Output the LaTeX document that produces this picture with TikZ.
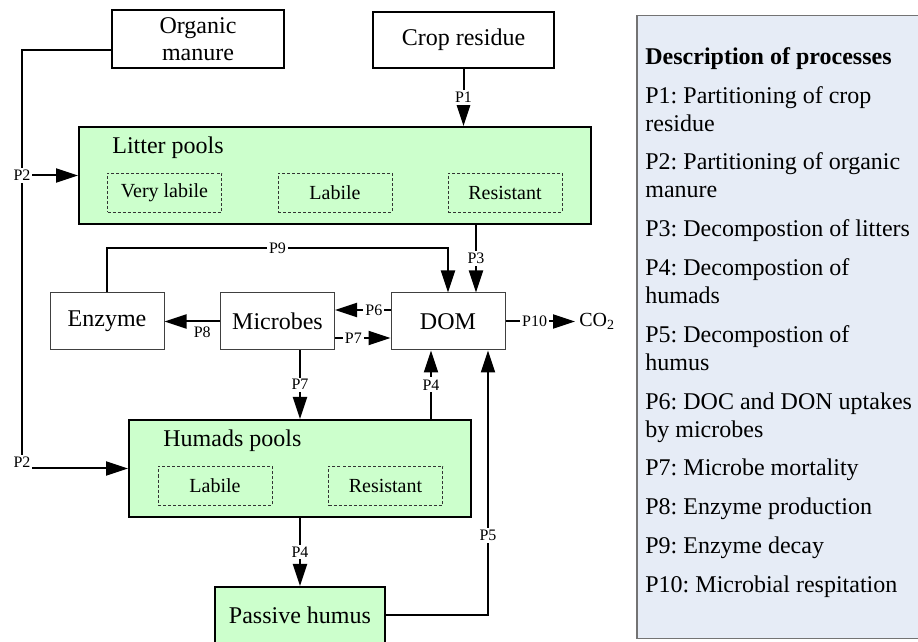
\documentclass[tikz,border=0pt]{standalone}
\usepackage{fontspec}
\setmainfont{Liberation Serif}
\usetikzlibrary{calc,arrows.meta}
\definecolor{poolgreen}{HTML}{CCFFCC}
\definecolor{descblue}{HTML}{E6ECF6}

\begin{document}
\frenchspacing
\begin{tikzpicture}[x=0.5pt, y=-0.5pt,
	box/.style={align=center, inner sep=0pt, font=\fontsize{12}{13.5}\selectfont},
	srcbox/.style={box, draw, line width=1pt, fill=white},
	poolbox/.style={box, draw, line width=1pt, fill=poolgreen},
	compbox/.style={box, draw=black!75, line width=0.5pt, fill=white, minimum width=57pt, minimum height=28.5pt},
	fracbox/.style={box, draw=black!80, line width=0.4pt, dash pattern=on 1.5pt off 1pt, minimum width=57pt, minimum height=19.5pt, font=\fontsize{10}{12}\selectfont},
	line/.style={line width=1pt},
	flow/.style={line, -{Triangle[length=11pt, width=7pt]}},
	plabel/.style={fill=white, inner sep=1pt, font=\fontsize{8}{9}\selectfont}]
	\clip (0,0) rectangle (918,642);
	\node[srcbox, minimum width=86pt, minimum height=29pt] (manure) at (198,39) {Organic\\manure};
	\node[srcbox, minimum width=90.5pt, minimum height=28pt] (crop) at (463.5,40) {Crop residue};
	\node[poolbox, minimum width=256pt, minimum height=48.5pt] (litter) at (335,175.5) {};
	\node[box, anchor=west] (littertitle) at (112,148) {Litter pools};
	\node[fracbox] (verylabile) at (164.5,192.5) {Very labile};
	\node[fracbox] (litterlabile) at (335,192.5) {Labile};
	\node[fracbox] (litterresist) at (505,192.5) {Resistant};
	\node[compbox] (enzyme) at (107,321.5) {Enzyme};
	\node[compbox] (microbes) at (277.5,321.5) {Microbes};
	\node[compbox] (dom) at (448,321.5) {DOM};
	\node[anchor=west, inner sep=2pt, font=\fontsize{10}{12}\selectfont] (co2) at (575,321.5) {CO\textsubscript{2}};
	\node[poolbox, minimum width=171pt, minimum height=48.5pt] (humads) at (300,468.5) {};
	\node[box, anchor=west] (humadstitle) at (163,441) {Humads pools};
	\node[fracbox] (humadslabile) at (215,486) {Labile};
	\node[fracbox] (humadsresist) at (385.5,486) {Resistant};
	\node[poolbox, minimum width=85pt, minimum height=28pt] (passive) at (300,615) {Passive humus};

	\coordinate (trunk) at (22,0);
	\coordinate (p9y) at (0,248);
	\coordinate (p3) at ([xshift=14pt]dom.north);
	\coordinate (p6) at ([yshift=5.75pt]dom.west);
	\coordinate (p7) at ([yshift=-8.25pt]microbes.east);
	\coordinate (p4) at ([xshift=-8.5pt]dom.south);
	\coordinate (p5) at ([xshift=20pt]dom.south);

	\draw[line] ($(manure.west)+(0,11)$) -| (trunk |- humads.west);
	\draw[flow] (trunk |- litter.west) node[plabel] {P2} -- (litter.west);
	\draw[flow] (trunk |- humads.west) node[plabel, yshift=3pt] {P2} -- (humads.west);
	\draw[flow] (crop.south) -- node[plabel] {P1} (crop.south |- litter.north);
	\draw[flow] (p3 |- litter.south) -- node[plabel] {P3} (p3);
	\draw[flow] (enzyme.north) -- (enzyme.north |- p9y) -- node[plabel] {P9} (dom.north |- p9y) -- (dom.north);
	\draw[flow] (p6) -- node[plabel, pos=0.3] {P6} (p6 -| microbes.east);
	\draw[flow] (p7) -- node[plabel, pos=0.33] {P7} (p7 -| dom.west);
	\draw[flow] (microbes.west) -- node[below, pos=0.32, inner sep=2pt, font=\fontsize{8}{9}\selectfont] {P8} (enzyme.east);
	\draw[flow] (microbes.south -| humads.north) -- node[plabel] {P7} (humads.north);
	\draw[flow] (p4 |- humads.north) -- node[plabel] {P4} (p4);
	\draw[flow] (humads.south) -- node[plabel] {P4} (passive.north);
	\draw[flow] (passive.east) -| node[plabel, pos=0.65] {P5} (p5);
	\draw[flow] (dom.east) -- node[plabel, pos=0.42] {P10} (co2.west);

	\node[draw=black!55, line width=0.75pt, fill=descblue, anchor=north west, minimum width=147pt, minimum height=311.5pt, inner sep=0pt] (descbox) at (636,15) {};
	\node[anchor=north west, inner sep=0pt, align=left, font=\fontsize{12}{14}\selectfont] (desc) at (645,47) {\textbf{Description of processes}\\[5.4pt]
		P1: Partitioning of crop\\ residue\\[5.4pt]
		P2: Partitioning of organic\\ manure\\[5.4pt]
		P3: Decompostion of litters\\[5.4pt]
		P4: Decompostion of\\ humads\\[5.4pt]
		P5: Decompostion of\\ humus\\[5.4pt]
		P6: DOC and DON uptakes\\ by microbes\\[5.4pt]
		P7: Microbe mortality\\[5.4pt]
		P8: Enzyme production\\[5.4pt]
		P9: Enzyme decay\\[5.4pt]
		P10: Microbial respitation};
\end{tikzpicture}
\end{document}
